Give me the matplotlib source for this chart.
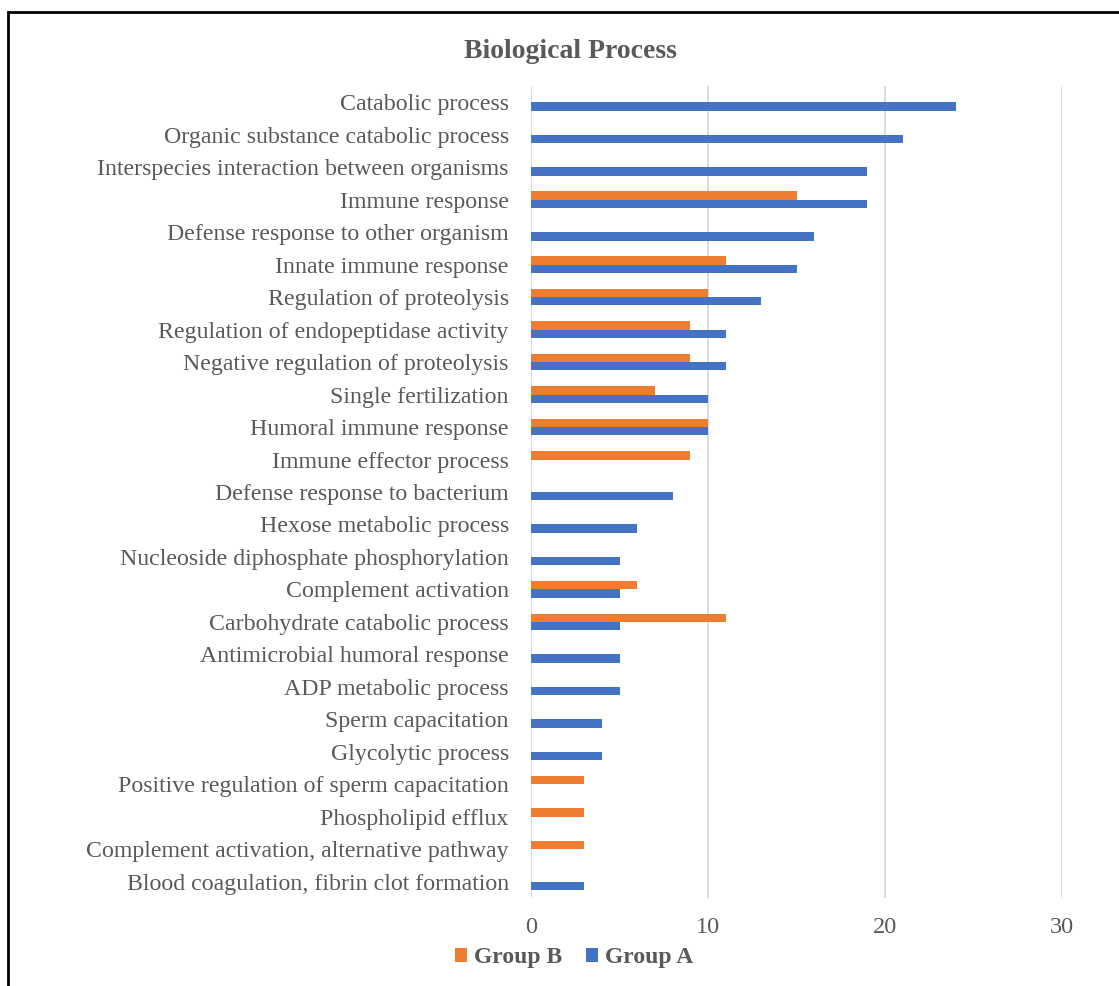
import numpy as np
import matplotlib.pyplot as plt
from matplotlib.patches import Rectangle

plt.rcParams['font.family'] = ['Liberation Serif', 'DejaVu Serif']

# GO terms, top to bottom
terms = [
    'Catabolic process',
    'Organic substance catabolic process',
    'Interspecies interaction between organisms',
    'Immune response',
    'Defense response to other organism',
    'Innate immune response',
    'Regulation of proteolysis',
    'Regulation of endopeptidase activity',
    'Negative regulation of proteolysis',
    'Single fertilization',
    'Humoral immune response',
    'Immune effector process',
    'Defense response to bacterium',
    'Hexose metabolic process',
    'Nucleoside diphosphate phosphorylation',
    'Complement activation',
    'Carbohydrate catabolic process',
    'Antimicrobial humoral response',
    'ADP metabolic process',
    'Sperm capacitation',
    'Glycolytic process',
    'Positive regulation of sperm capacitation',
    'Phospholipid efflux',
    'Complement activation, alternative pathway',
    'Blood coagulation, fibrin clot formation',
]
group_a = [24, 21, 19, 19, 16, 15, 13, 11, 11, 10, 10, 0, 8, 6, 5, 5, 5, 5, 5, 4, 4, 0, 0, 0, 3]
group_b = [0, 0, 0, 15, 0, 11, 10, 9, 9, 7, 10, 9, 0, 0, 0, 6, 11, 0, 0, 0, 0, 3, 3, 3, 0]

grey = '#595959'
blue = '#4472C4'
orange = '#ED7D31'

fig = plt.figure(figsize=(11.19, 9.86), dpi=100)
W, H = 1119, 986
ax = fig.add_axes([531 / W, 1 - 898 / H, (1062 - 531) / W, (898 - 86) / H])

y = np.arange(len(terms))
h = 0.257
ax.barh(y + h / 2, group_a, height=h, color=blue, label='Group A', zorder=3)
ax.barh(y - h / 2, group_b, height=h, color=orange, label='Group B', zorder=3)

ax.set_ylim(len(terms) - 0.5, -0.5)
ax.set_xlim(0, 30)
ax.set_xticks([0, 10, 20, 30])
ax.set_yticks(y)
ax.set_yticklabels(terms)
ax.grid(axis='x', color='#D9D9D9', lw=1.3, zorder=0)
for s in ax.spines.values():
    s.set_visible(False)
ax.tick_params(axis='y', length=0, pad=16, labelsize=17.2, labelcolor=grey)
ax.tick_params(axis='x', length=0, pad=14, labelsize=17.5, labelcolor=grey)

fig.text(570 / W, 1 - 51 / H, 'Biological Process', ha='center', va='center',
         fontsize=20, fontweight='bold', color=grey)

handles, labels = ax.get_legend_handles_labels()
leg = fig.legend(handles[::-1], labels[::-1], loc='center', ncol=2,
                 bbox_to_anchor=(574 / W, 1 - 958 / H), frameon=False,
                 handlelength=0.5, handleheight=0.5, handletextpad=0.3,
                 columnspacing=1.0, prop={'size': 17, 'weight': 'bold'})
for t in leg.get_texts():
    t.set_color(grey)

# outer frame, runs off the right and bottom edges
fig.patches.append(Rectangle((8 / W, -0.1), 1.2, 1.1 - 12 / H, transform=fig.transFigure,
                             fill=False, edgecolor='black', lw=2))

fig.savefig('out.png', dpi=100)
